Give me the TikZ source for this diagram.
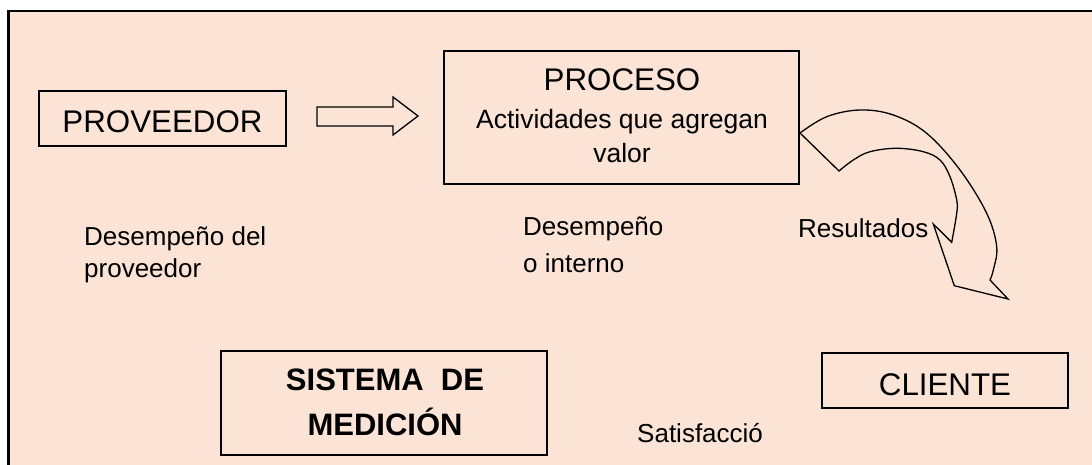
\documentclass[tikz,border=0pt]{standalone}
\usepackage{fontspec}
\setmainfont{Liberation Sans}
\definecolor{peach}{HTML}{FBE4D6}
\begin{document}
\begin{tikzpicture}[x=1pt,y=-1pt,
  box/.style={draw=black,line width=1.3pt,rectangle,inner sep=0pt},
  big/.style={font=\fontsize{31.3}{36}\selectfont},
  txt/.style={anchor=base west,inner sep=0pt},
  outline/.style={draw=black,line width=1.3pt,line join=miter}]
\useasboundingbox (0,0) rectangle (1092,465);
\fill[white] (0,0) rectangle (1092,465);
\fill[peach] (8.5,11) rectangle (1092,465);
\draw[line width=2.5pt] (8.5,466) -- (8.5,11) -- (1093,11);

% boxes
\node[box,big,minimum width=247pt,minimum height=55pt,text height=29pt,text depth=0pt] (prov) at (162.5,118.5) {PROVEEDOR};
\node[box,big,minimum width=246pt,minimum height=55pt,text height=29pt,text depth=0pt] (cli) at (945,380.5) {CLIENTE};
\node[box,minimum width=355pt,minimum height=133pt] (proc) at (621.5,117.5) {};
\node[big,anchor=base,inner sep=0pt] (proct) at (622,91) {PROCESO};
\node[font=\fontsize{26.5}{32}\selectfont,anchor=base,inner sep=0pt] (act1) at (622,129) {Actividades que agregan};
\node[font=\fontsize{26.5}{32}\selectfont,anchor=base,inner sep=0pt] (act2) at (622,163) {valor};
\node[box,minimum width=326pt,minimum height=104pt] (sis) at (384,403) {};
\node[font=\fontsize{31}{36}\selectfont\bfseries,anchor=base,inner sep=0pt] (sis1) at (385,390) {SISTEMA~~DE};
\node[font=\fontsize{31}{36}\selectfont\bfseries,anchor=base,inner sep=0pt] (sis2) at (385,435) {MEDICIÓN};

% labels
\node[txt,font=\fontsize{26}{30}\selectfont] (dp1) at (84,245) {Desempeño del};
\node[txt,font=\fontsize{26}{30}\selectfont] (dp2) at (84,277) {proveedor};
\node[txt,font=\fontsize{26}{30}\selectfont] (di1) at (523,236) {Desempeño};
\node[txt,font=\fontsize{26}{30}\selectfont] (di2) at (523,272) {o interno};
\node[txt,font=\fontsize{26}{30}\selectfont] (res) at (798,237) {Resultados};
\node[txt,font=\fontsize{26}{30}\selectfont] (sat) at (637,442) {Satisfacció};

% block arrow proveedor -> proceso
\draw[outline] (317,107) -- (393,107) -- (393,97) -- (418,116) -- (393,135) -- (393,126) -- (317,126) -- cycle;

% curved arrow proceso -> cliente
\draw[outline] plot[smooth,tension=0.6] coordinates {(800,133) (826.7,116.7) (860,110) (893.3,115) (926.7,133.3) (960,170) (986.7,213.3) (996.7,246.7) (993.3,270) (990,280)}
  -- (1008,299) -- (954.3,285.7) -- (933.3,224) -- (951.7,242.3)
  -- plot[smooth,tension=0.6] coordinates {(951.7,242.3) (956.7,213.3) (956.7,200) (950,176.7) (940,160) (923.3,151.7) (896.7,148.3) (870,151.7) (853.3,160) (839,171)}
  -- cycle;
\end{tikzpicture}
\end{document}
